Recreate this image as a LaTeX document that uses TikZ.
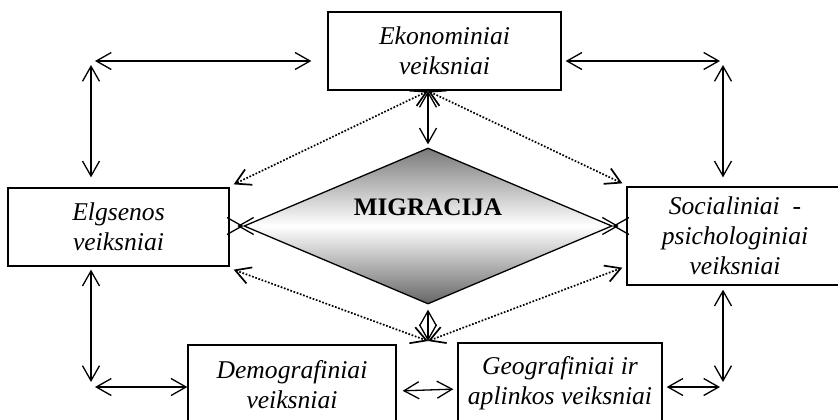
\documentclass[tikz,border=0pt]{standalone}
\usepackage{fontspec}
\setmainfont{Liberation Serif}
\usetikzlibrary{arrows.meta,shapes.geometric}

\begin{document}
\begin{tikzpicture}[x=0.5pt,y=-0.5pt,
  box/.style={draw,line width=0.65pt,align=center,inner sep=0pt,
    font=\fontsize{12.8}{15}\selectfont\itshape},
  dbl/.style={{Straight Barb[length=7.5pt,width=8.5pt]}-{Straight Barb[length=7.5pt,width=8.5pt]},
    line width=0.65pt},
  dots/.style={dbl,line width=0.85pt,dash pattern=on 0.85pt off 0.85pt}]
\useasboundingbox (0,0) rectangle (838,419);
% boxes
\node[box,minimum width=116.5pt,minimum height=39pt] (eko) at (444.5,51) {Ekonominiai\\veiksniai};
\node[box,minimum width=110.5pt,minimum height=39pt] (elg) at (118.5,227) {Elgsenos\\veiksniai};
\node[box,minimum width=108pt,minimum height=49pt] (soc) at (735,236) {Socialiniai~ -\\psichologiniai\\veiksniai};
\node[box,minimum width=104pt,minimum height=40pt] (dem) at (292,385) {Demografiniai\\veiksniai};
\node[box,minimum width=102pt,minimum height=40pt] (geo) at (560,383) {Geografiniai ir\\aplinkos veiksniai};
% centre
\node[diamond,draw,line width=0.65pt,inner sep=0pt,minimum width=184pt,minimum height=78pt,
  top color=black!52,bottom color=black!60,middle color=white] (mig) at (428,226) {};
\node[font=\fontsize{12.6}{15}\selectfont\bfseries] (miglbl) at (428,207) {MIGRACIJA};
% corner points
\coordinate (tl) at (91,61);
\coordinate (tr) at (723,61);
\coordinate (bl) at (91,387);
\coordinate (br) at (723,387);
\coordinate (top) at (428,91);
\coordinate (bot) at (428,341);
% solid connectors
\draw[dbl,shorten <=2pt,shorten >=8pt] (tl) -- (tl -| eko.west);
\draw[dbl,shorten <=2pt,shorten >=5pt] (tl) -- (tl |- elg.north);
\draw[dbl,shorten <=2pt,shorten >=1.5pt] (tr -| eko.east) -- (tr);
\draw[dbl,shorten <=2pt,shorten >=4.5pt] (tr) -- (tr |- soc.north);
\draw[dbl,shorten >=1.5pt] (top) -- (mig.north);
\draw[dbl,shorten <=1.5pt,shorten >=2.5pt] (bl |- elg.south) -- (bl);
\draw[dbl,shorten <=2pt] (bl) -- (bl -| dem.west);
\draw[dbl,shorten <=3pt,shorten >=2pt] ([yshift=-3pt]dem.east) -- ([yshift=-3pt]geo.west);
\draw[dbl,shorten <=2pt,shorten >=1.5pt] (br -| geo.east) -- (br);
\draw[dbl,shorten <=2pt,shorten >=2.5pt] (br |- soc.south) -- (br);
\draw[dbl,shorten <=2.5pt] (mig.south) -- (bot);
\draw[dbl] (mig.west) -- ++(-6,0);
\draw[dbl] (mig.east) -- ++(6,0);
% dotted connectors
\draw[dots] (top) -- ([xshift=2pt,yshift=1.5pt]elg.north east);
\draw[dots] (top) -- ([xshift=-2pt,yshift=1.5pt]soc.north west);
\draw[dots] ([xshift=2pt,yshift=-1.5pt]elg.south east) -- (bot);
\draw[dots] ([xshift=-2pt,yshift=9pt]soc.south west) -- (bot);
\end{tikzpicture}
\end{document}
